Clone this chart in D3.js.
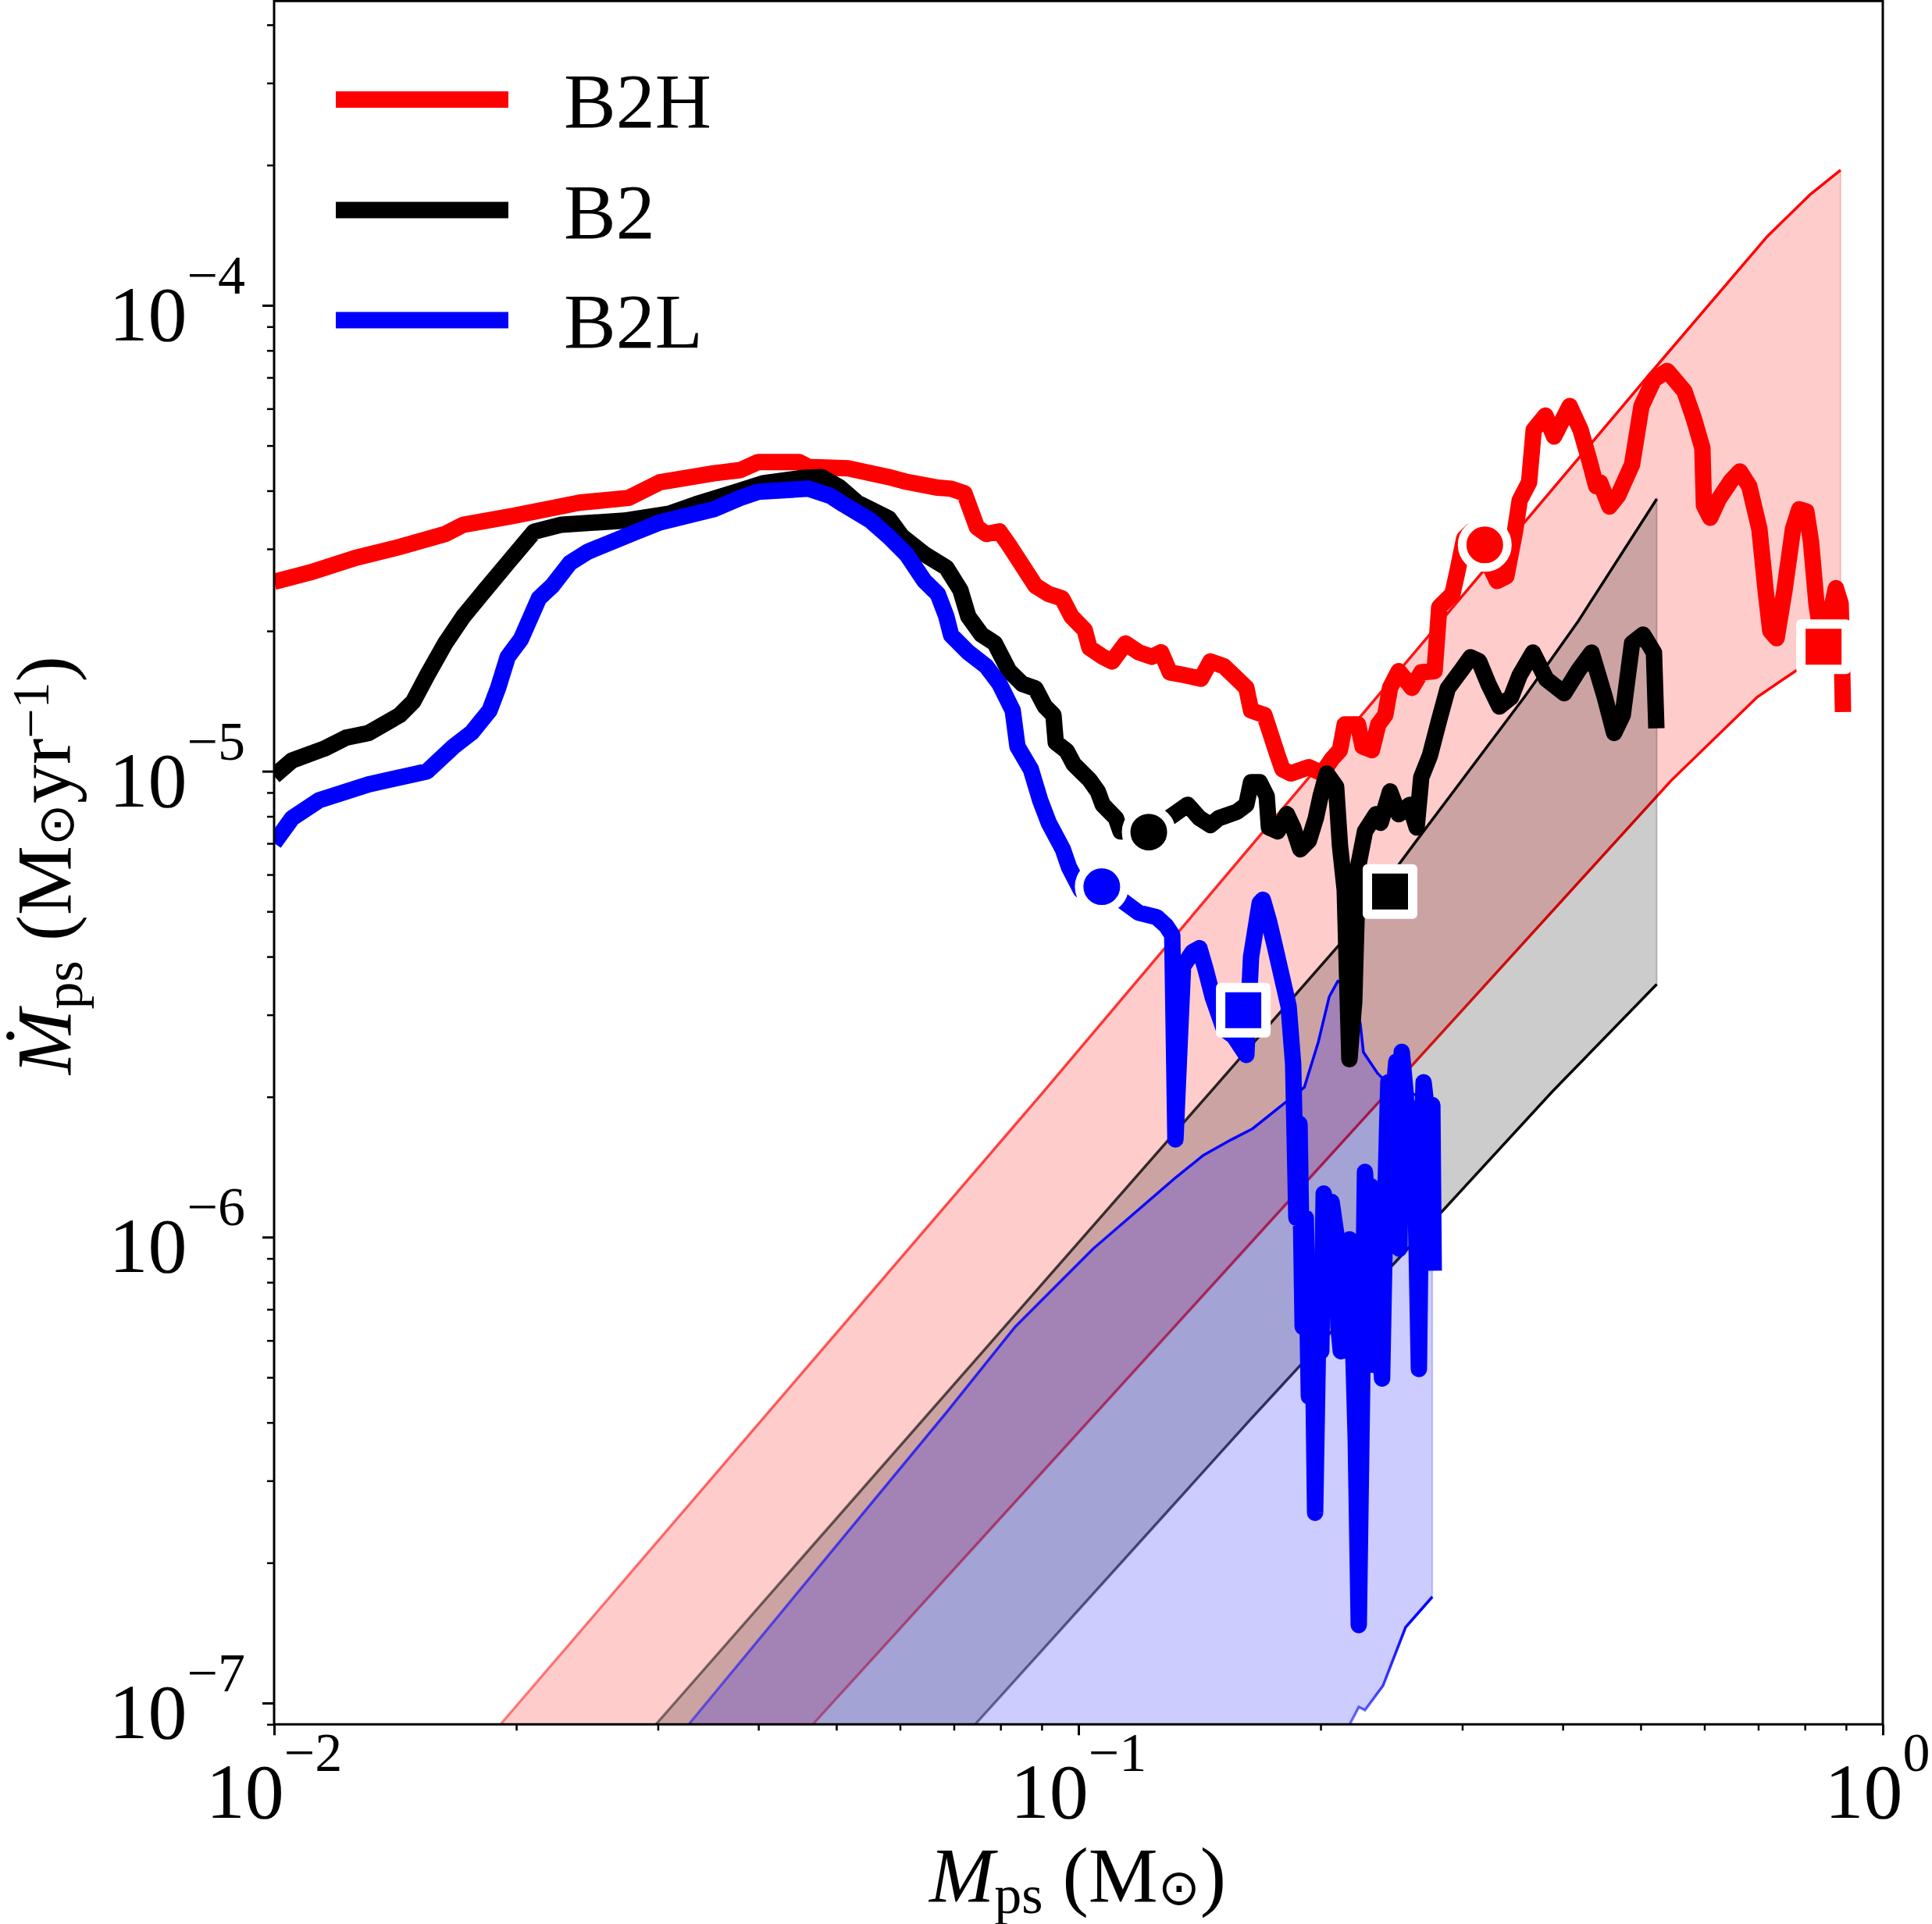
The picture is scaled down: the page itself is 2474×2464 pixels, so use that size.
<!DOCTYPE html>
<html>
<head>
<meta charset="utf-8">
<script src="https://cdn.jsdelivr.net/npm/d3@7"></script>
<style>
body { margin: 0; background: #fff; }
text { font-family: "Liberation Serif", "Times New Roman", serif; fill: #000; }
</style>
</head>
<body>
<div id="chart"></div>
<script>
// ---- data ----
var models = ['B2H', 'B2', 'B2L'],
    colors = ['#ff0000', '#000000', '#0000ff'];

var b2hMass = [0.0100, 0.01108, 0.01262, 0.01433, 0.01632, 0.01718, 0.01978, 0.02396, 0.02759, 0.03017,
  0.03521, 0.03799, 0.03999, 0.04492, 0.04614, 0.05171, 0.05808, 0.06114, 0.06686, 0.06945,
  0.07215, 0.07477, 0.07680, 0.07977, 0.08194, 0.08627, 0.08842, 0.09185, 0.09541, 0.09801,
  0.1018, 0.1032, 0.1072, 0.1101, 0.1144, 0.1188, 0.1234, 0.1267, 0.1299, 0.1349,
  0.1420, 0.1459, 0.1516, 0.1574, 0.1617, 0.1639, 0.1703, 0.1769, 0.1793, 0.1837,
  0.1934, 0.2009, 0.2064, 0.2114, 0.2143, 0.2226, 0.2256, 0.2317, 0.2359, 0.2407,
  0.2440, 0.2501, 0.2598, 0.2668, 0.2772, 0.2809, 0.2917, 0.2957, 0.3017, 0.3085,
  0.3233, 0.3314, 0.3404, 0.3489, 0.3536, 0.3633, 0.3681, 0.3807, 0.3902, 0.4080,
  0.4210, 0.4315, 0.4402, 0.4451, 0.4572, 0.4686, 0.4878, 0.5012, 0.5194, 0.5395,
  0.5667, 0.5821, 0.5966, 0.5993, 0.6101, 0.6253, 0.6482, 0.6642, 0.6823, 0.7024,
  0.7151, 0.7247, 0.7379, 0.7546, 0.7733, 0.7873, 0.8034, 0.8142, 0.8270, 0.8381,
  0.8590, 0.8743, 0.8863, 0.8900, 0.8923];
var b2hRate = [2.55e-5, 2.67e-5, 2.87e-5, 3.03e-5, 3.23e-5, 3.38e-5, 3.53e-5, 3.77e-5, 3.86e-5, 4.17e-5,
  4.36e-5, 4.43e-5, 4.61e-5, 4.61e-5, 4.50e-5, 4.47e-5, 4.28e-5, 4.18e-5, 4.06e-5, 4.04e-5,
  3.95e-5, 3.34e-5, 3.23e-5, 3.27e-5, 3.06e-5, 2.67e-5, 2.50e-5, 2.40e-5, 2.35e-5, 2.15e-5,
  2.01e-5, 1.84e-5, 1.76e-5, 1.72e-5, 1.88e-5, 1.80e-5, 1.76e-5, 1.80e-5, 1.63e-5, 1.61e-5,
  1.58e-5, 1.72e-5, 1.68e-5, 1.58e-5, 1.51e-5, 1.35e-5, 1.32e-5, 1.08e-5, 1.01e-5, 9.89e-6,
  1.02e-5, 9.89e-6, 1.06e-5, 1.11e-5, 1.26e-5, 1.26e-5, 1.13e-5, 1.11e-5, 1.26e-5, 1.32e-5,
  1.51e-5, 1.64e-5, 1.51e-5, 1.63e-5, 1.64e-5, 2.25e-5, 2.40e-5, 2.67e-5, 3.16e-5, 3.28e-5,
  2.80e-5, 2.56e-5, 2.62e-5, 3.27e-5, 3.81e-5, 4.17e-5, 5.40e-5, 5.80e-5, 5.23e-5, 6.08e-5,
  5.40e-5, 4.66e-5, 4.09e-5, 4.17e-5, 3.70e-5, 3.90e-5, 4.55e-5, 6.08e-5, 6.93e-5, 7.23e-5,
  6.54e-5, 5.72e-5, 4.94e-5, 3.72e-5, 3.50e-5, 3.84e-5, 4.21e-5, 4.40e-5, 4.09e-5, 3.31e-5,
  2.44e-5, 2.00e-5, 1.93e-5, 2.44e-5, 3.31e-5, 3.65e-5, 3.61e-5, 3.11e-5, 2.29e-5, 1.96e-5,
  2.15e-5, 2.47e-5, 2.29e-5, 1.69e-5, 1.34e-5];

var b2Mass = [0.0100, 0.01053, 0.01154, 0.01228, 0.01311, 0.01433, 0.01489, 0.01550, 0.01632, 0.01718,
  0.01829, 0.01952, 0.02105, 0.02277, 0.02723, 0.03099, 0.03344, 0.03757, 0.04053, 0.04553,
  0.04793, 0.05045, 0.05311, 0.05808, 0.06034, 0.06435, 0.06850, 0.07133, 0.07294, 0.07576,
  0.07870, 0.08194, 0.08513, 0.08842, 0.09085, 0.09309, 0.09371, 0.09669, 0.09867, 0.1032,
  0.1057, 0.1072, 0.1113, 0.1128, 0.1223, 0.1316, 0.1367, 0.1414, 0.1459, 0.1495,
  0.1574, 0.1617, 0.1639, 0.1680, 0.1714, 0.1725, 0.1769, 0.1816, 0.1849, 0.1887,
  0.1934, 0.1973, 0.2000, 0.2036, 0.2091, 0.2114, 0.2143, 0.2172, 0.2202, 0.2226,
  0.2271, 0.2344, 0.2375, 0.2440, 0.2501, 0.2581, 0.2633, 0.2668, 0.2735, 0.2809,
  0.2878, 0.2990, 0.3072, 0.3148, 0.3233, 0.3337, 0.3451, 0.3536, 0.3673, 0.3816,
  0.4017, 0.4182, 0.4344, 0.4512, 0.4634, 0.4750, 0.4878, 0.5034, 0.5194, 0.5230];
var b2Rate = [9.77e-6, 1.055e-5, 1.118e-5, 1.180e-5, 1.208e-5, 1.320e-5, 1.410e-5, 1.607e-5, 1.882e-5, 2.146e-5,
  2.447e-5, 2.800e-5, 3.267e-5, 3.382e-5, 3.449e-5, 3.570e-5, 3.740e-5, 3.978e-5, 4.150e-5, 4.263e-5,
  4.278e-5, 4.071e-5, 3.768e-5, 3.489e-5, 3.192e-5, 2.922e-5, 2.736e-5, 2.447e-5, 2.150e-5, 1.964e-5,
  1.882e-5, 1.644e-5, 1.540e-5, 1.505e-5, 1.377e-5, 1.320e-5, 1.153e-5, 1.105e-5, 1.035e-5, 9.585e-6,
  9.046e-6, 8.472e-6, 7.931e-6, 7.430e-6, 7.400e-6, 8.088e-6, 8.472e-6, 7.931e-6, 7.663e-6, 7.931e-6,
  8.182e-6, 8.472e-6, 9.474e-6, 9.474e-6, 8.840e-6, 7.575e-6, 7.430e-6, 8.088e-6, 7.575e-6, 6.800e-6,
  7.095e-6, 7.931e-6, 8.840e-6, 9.885e-6, 9.258e-6, 6.933e-6, 5.563e-6, 2.409e-6, 3.193e-6, 6.223e-6,
  7.430e-6, 8.088e-6, 7.751e-6, 9.046e-6, 8.088e-6, 8.472e-6, 7.575e-6, 9.696e-6, 1.080e-5, 1.290e-5,
  1.505e-5, 1.644e-5, 1.756e-5, 1.722e-5, 1.540e-5, 1.377e-5, 1.442e-5, 1.607e-5, 1.797e-5, 1.576e-5,
  1.470e-5, 1.644e-5, 1.797e-5, 1.442e-5, 1.208e-5, 1.320e-5, 1.882e-5, 1.964e-5, 1.797e-5, 1.236e-5];

var b2lMass = [0.0100, 0.01053, 0.01138, 0.01311, 0.01509, 0.01550, 0.01672, 0.01760, 0.01853, 0.01899,
  0.01952, 0.02027, 0.02134, 0.02217, 0.02333, 0.02456, 0.02828, 0.03017, 0.03521, 0.03799,
  0.03999, 0.04614, 0.04913, 0.05102, 0.05516, 0.05808, 0.06114, 0.06435, 0.06686, 0.06850,
  0.06945, 0.07294, 0.07680, 0.07977, 0.08285, 0.08398, 0.08725, 0.08961, 0.09185, 0.09563,
  0.09734, 0.1007, 0.1069, 0.1128, 0.1188, 0.1251, 0.1285, 0.1308, 0.1320, 0.1349,
  0.1386, 0.1414, 0.1440, 0.1469, 0.1516, 0.1560, 0.1617, 0.1639, 0.1680, 0.1695,
  0.1725, 0.1757, 0.1825, 0.1849, 0.1866, 0.1883, 0.1900, 0.1917, 0.1934, 0.1951,
  0.1969, 0.1987, 0.2004, 0.2018, 0.2041, 0.2064, 0.2091, 0.2105, 0.2119, 0.2143,
  0.2172, 0.2192, 0.2212, 0.2231, 0.2251, 0.2271, 0.2292, 0.2312, 0.2333, 0.2364,
  0.2385, 0.2412, 0.2428, 0.2456, 0.2484, 0.2506, 0.2523, 0.2551, 0.2586, 0.2609,
  0.2633, 0.2650, 0.2668, 0.2686, 0.2716, 0.2735, 0.2754, 0.2765];
var b2lRate = [7.01e-6, 7.93e-6, 8.67e-6, 9.37e-6, 9.89e-6, 1.00e-5, 1.13e-5, 1.21e-5, 1.35e-5, 1.51e-5,
  1.76e-5, 1.92e-5, 2.35e-5, 2.50e-5, 2.80e-5, 2.96e-5, 3.27e-5, 3.42e-5, 3.65e-5, 3.86e-5,
  3.98e-5, 4.04e-5, 3.90e-5, 3.74e-5, 3.45e-5, 3.19e-5, 2.92e-5, 2.56e-5, 2.40e-5, 2.15e-5,
  1.96e-5, 1.80e-5, 1.68e-5, 1.54e-5, 1.35e-5, 1.13e-5, 1.01e-5, 8.67e-6, 7.75e-6, 6.80e-6,
  6.22e-6, 5.56e-6, 5.65e-6, 5.31e-6, 4.97e-6, 4.86e-6, 4.66e-6, 4.45e-6, 1.62e-6, 3.81e-6,
  4.09e-6, 4.17e-6, 3.74e-6, 3.27e-6, 2.80e-6, 2.70e-6, 2.46e-6, 3.99e-6, 5.21e-6, 5.30e-6,
  4.77e-6, 4.17e-6, 3.13e-6, 2.35e-6, 1.10e-6, 1.75e-6, 6.42e-7, 1.10e-6, 4.55e-7, 8.74e-7,
  2.56e-7, 6.42e-7, 5.69e-7, 1.24e-6, 8.74e-7, 1.19e-6, 1.02e-6, 6.42e-7, 5.69e-7, 9.44e-7,
  9.89e-7, 6.42e-7, 3.65e-7, 1.47e-7, 4.36e-7, 1.38e-6, 9.44e-7, 1.285e-6, 5.31e-7, 6.42e-7,
  4.97e-7, 1.388e-6, 2.15e-6, 1.89e-6, 2.38e-6, 9.44e-7, 2.50e-6, 2.04e-6, 1.26e-6, 1.89e-6,
  9.44e-7, 5.21e-7, 1.388e-6, 2.15e-6, 1.82e-6, 1.388e-6, 1.92e-6, 8.47e-7];

// marker positions (circle, square) per model
var circleMass = [0.320, 0.1223, 0.1069],
    circleRate = [3.06e-5, 7.40e-6, 5.65e-6],
    squareMass = [0.844, 0.2440, 0.1603],
    squareRate = [1.85e-5, 5.52e-6, 3.07e-6];

// shaded bands: upper and lower bounding curves
var redUpperMass = [0.01745, 0.01916, 0.09022, 0.5125, 0.7182, 0.8123, 0.886],
    redUpperRate = [7.43e-8, 9.04e-8, 2.04e-6, 7.10e-5, 1.405e-4, 1.729e-4, 1.95e-4],
    redLowerMass = [0.04267, 0.04687, 0.5456, 0.6979, 0.886],
    redLowerRate = [7.57e-8, 9.04e-8, 9.55e-6, 1.442e-5, 1.91e-5];

var blackUpperMass = [0.02853, 0.02990, 0.1456, 0.2114, 0.2633, 0.3584, 0.4182, 0.5236],
    blackUpperRate = [8.21e-8, 9.04e-8, 2.04e-6, 4.26e-6, 7.10e-6, 1.442e-5, 2.10e-5, 3.84e-5],
    blackLowerMass = [0.07133, 0.07459, 0.1632, 0.2791, 0.3880, 0.5236],
    blackLowerRate = [8.28e-8, 9.04e-8, 4.04e-7, 1.105e-6, 2.05e-6, 3.49e-6];

var blueUpperMass = [0.03120, 0.03284, 0.06850, 0.08343, 0.1043, 0.1320, 0.1430, 0.1550, 0.1646, 0.1816,
  0.1909, 0.1987, 0.2050, 0.2101, 0.2182, 0.2241, 0.2261, 0.2354, 0.2402, 0.2551, 0.2754],
    blueUpperRate = [8.12e-8, 9.04e-8, 4.20e-7, 6.42e-7, 9.44e-7, 1.341e-6, 1.499e-6, 1.620e-6, 1.709e-6, 1.956e-6,
  2.097e-6, 2.623e-6, 3.280e-6, 3.543e-6, 3.475e-6, 2.866e-6, 2.494e-6, 2.248e-6, 2.171e-6, 2.056e-6, 1.963e-6],
    blueLowerMass = [0.2110, 0.2177, 0.2231, 0.2271, 0.2391, 0.2551, 0.2754],
    blueLowerRate = [8.15e-8, 9.04e-8, 9.81e-8, 9.66e-8, 1.089e-7, 1.454e-7, 1.690e-7];

var xTickExps = [-2, -1, 0],
    yTickExps = [-7, -6, -5, -4];

// ---- layout ----
var width = 2474, height = 2464;
var plot = {left: 351, right: 2411, top: 1.25, bottom: 2208.3};

var x = d3.scaleLog().domain([0.01, 1]).range([plot.left, plot.right]);
var y = d3.scaleLog().domain([9e-8, 4.5e-4]).range([plot.bottom, plot.top]);

var svg = d3.select('#chart')
  .append('svg')
    .attr('width', width)
    .attr('height', height)
    .attr('viewBox', '0 0 ' + width + ' ' + height);

var defs = svg.append('defs');
defs.append('clipPath')
    .attr('id', 'plotclip')
  .append('rect')
    .attr('x', plot.left)
    .attr('y', plot.top)
    .attr('width', plot.right - plot.left)
    .attr('height', plot.bottom - plot.top);

var zip = (a, b) => a.map((d, i) => [d, b[i]]);
var line = d3.line().x(d => x(d[0])).y(d => y(d[1]));

var content = svg.append('g').attr('clip-path', 'url(#plotclip)');

// bands
var bands = [
  {color: colors[0], up: zip(redUpperMass, redUpperRate), low: zip(redLowerMass, redLowerRate)},
  {color: colors[1], up: zip(blackUpperMass, blackUpperRate), low: zip(blackLowerMass, blackLowerRate)},
  {color: colors[2], up: zip(blueUpperMass, blueUpperRate), low: zip(blueLowerMass, blueLowerRate)}
];

var gradId = 0;
bands.forEach(b => {
  var poly = b.up.concat(b.low.slice().reverse());
  content.append('path')
    .attr('d', line(poly) + 'Z')
    .attr('fill', b.color)
    .attr('fill-opacity', 0.2)
    .attr('stroke', b.color)
    .attr('stroke-opacity', 0.2)
    .attr('stroke-width', 2);
  [b.up, b.low].forEach(edge => {
    // edges fade out towards the low-mass end
    var first = edge[0], last = edge[edge.length - 1];
    var id = 'edge' + (gradId++);
    var g = defs.append('linearGradient')
      .attr('id', id)
      .attr('gradientUnits', 'userSpaceOnUse')
      .attr('x1', x(first[0])).attr('y1', y(first[1]))
      .attr('x2', x(last[0])).attr('y2', y(last[1]));
    g.append('stop').attr('offset', 0).attr('stop-color', b.color).attr('stop-opacity', 0.35);
    g.append('stop').attr('offset', 0.75).attr('stop-color', b.color).attr('stop-opacity', 0.95);
    g.append('stop').attr('offset', 1).attr('stop-color', b.color).attr('stop-opacity', 1);
    content.append('path')
      .attr('d', line(edge))
      .attr('fill', 'none')
      .attr('stroke', 'url(#' + id + ')')
      .attr('stroke-width', 3.5);
  });
});

// simulation curves
var series = [zip(b2hMass, b2hRate), zip(b2Mass, b2Rate), zip(b2lMass, b2lRate)];
series.forEach((s, i) => {
  content.append('path')
    .attr('d', line(s))
    .attr('fill', 'none')
    .attr('stroke', colors[i])
    .attr('stroke-width', 21)
    .attr('stroke-linejoin', 'round')
    .attr('stroke-linecap', 'butt');
});

// markers
models.forEach((m, i) => {
  content.append('circle')
    .attr('cx', x(circleMass[i]))
    .attr('cy', y(circleRate[i]))
    .attr('r', 29)
    .attr('fill', colors[i])
    .attr('stroke', '#fff')
    .attr('stroke-width', 11);
  content.append('rect')
    .attr('x', x(squareMass[i]) - 29)
    .attr('y', y(squareRate[i]) - 29)
    .attr('width', 58)
    .attr('height', 58)
    .attr('fill', colors[i])
    .attr('stroke', '#fff')
    .attr('stroke-width', 12)
    .attr('stroke-linejoin', 'round');
});

// axes ticks
var xMinor = [], yMinor = [9e-8];
[0.01, 0.1].forEach(d => { for (var k = 2; k <= 9; k++) xMinor.push(k * d); });
[1e-7, 1e-6, 1e-5].forEach(d => { for (var k = 2; k <= 9; k++) yMinor.push(k * d); });
[2e-4, 3e-4, 4e-4].forEach(d => yMinor.push(d));

function styleAxis(g, w) {
  g.select('.domain').remove();
  g.selectAll('.tick line').attr('stroke', '#000').attr('stroke-width', w);
  g.selectAll('.tick text').remove();
}

svg.append('g')
  .attr('transform', 'translate(0,' + plot.bottom + ')')
  .call(d3.axisBottom(x).tickValues(xTickExps.map(e => Math.pow(10, e))).tickSize(14).tickFormat(''))
  .call(g => styleAxis(g, 3));
svg.append('g')
  .attr('transform', 'translate(0,' + plot.bottom + ')')
  .call(d3.axisBottom(x).tickValues(xMinor).tickSize(8).tickFormat(''))
  .call(g => styleAxis(g, 2.5));
svg.append('g')
  .attr('transform', 'translate(' + plot.left + ',0)')
  .call(d3.axisLeft(y).tickValues(yTickExps.map(e => Math.pow(10, e))).tickSize(15).tickFormat(''))
  .call(g => styleAxis(g, 3));
svg.append('g')
  .attr('transform', 'translate(' + plot.left + ',0)')
  .call(d3.axisLeft(y).tickValues(yMinor).tickSize(9).tickFormat(''))
  .call(g => styleAxis(g, 2.5));

// frame
svg.append('rect')
  .attr('x', plot.left)
  .attr('y', plot.top)
  .attr('width', plot.right - plot.left)
  .attr('height', plot.bottom - plot.top)
  .attr('fill', 'none')
  .attr('stroke', '#000')
  .attr('stroke-width', 3);

// tick labels 10^n
function powLabel(t, e) {
  t.append('tspan').text('10');
  t.append('tspan')
    .attr('dy', -60)
    .attr('font-size', 70)
    .text(e < 0 ? '\u2212' + Math.abs(e) : String(e));
}

xTickExps.forEach(e => {
  var px = x(Math.pow(10, e));
  var t = svg.append('text')
    .attr('x', Math.min(px, width - 70))
    .attr('y', plot.bottom + 120)
    .attr('text-anchor', 'middle')
    .attr('font-size', 100);
  powLabel(t, e);
});

yTickExps.forEach(e => {
  var t = svg.append('text')
    .attr('x', 314)
    .attr('y', y(Math.pow(10, e)) + 45)
    .attr('text-anchor', 'end')
    .attr('font-size', 100);
  powLabel(t, e);
});

// axis titles
var xt = svg.append('text')
  .attr('x', 1380)
  .attr('y', 2435)
  .attr('text-anchor', 'middle')
  .attr('font-size', 100);
xt.append('tspan').attr('font-style', 'italic').text('M');
xt.append('tspan').attr('font-size', 70).attr('dy', 15).text('ps');
xt.append('tspan').attr('dy', -15).text(' (M');
xt.append('tspan').attr('font-size', 64).attr('dy', 4).text('\u2299');
xt.append('tspan').attr('dy', -4).text(')');

var yt = svg.append('text')
  .attr('transform', 'translate(90,1108) rotate(-90)')
  .attr('text-anchor', 'middle')
  .attr('font-size', 100);
yt.append('tspan').attr('font-style', 'italic').text('\u1E40');
yt.append('tspan').attr('font-size', 70).attr('dy', 15).text('ps');
yt.append('tspan').attr('dy', -15).text(' (M');
yt.append('tspan').attr('font-size', 64).attr('dy', 4).text('\u2299');
yt.append('tspan').attr('dy', -4).text('yr');
yt.append('tspan').attr('font-size', 68).attr('dy', -28).text('\u22121');
yt.append('tspan').attr('dy', 28).text(')');

// legend
var legY = [127.5, 269, 410], legText = [163, 304.5, 445];
models.forEach((m, i) => {
  svg.append('line')
    .attr('x1', 430).attr('x2', 651)
    .attr('y1', legY[i]).attr('y2', legY[i])
    .attr('stroke', colors[i])
    .attr('stroke-width', 21);
  svg.append('text')
    .attr('x', 722)
    .attr('y', legText[i])
    .attr('font-size', 100)
    .text(m);
});
</script>
</body>
</html>
